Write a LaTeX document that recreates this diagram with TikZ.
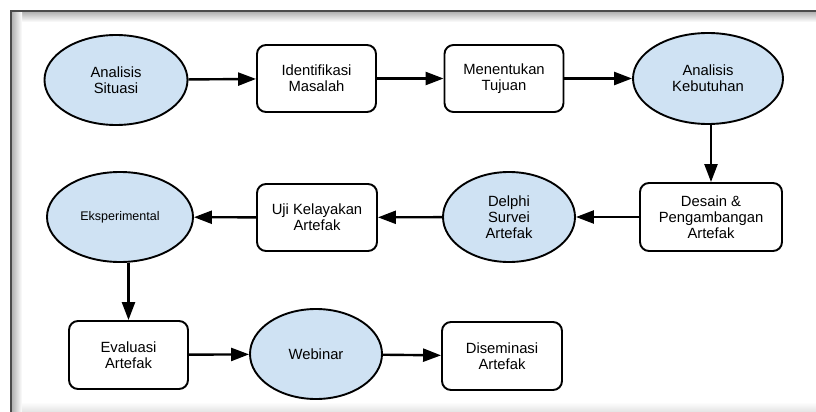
\documentclass[tikz,border=0pt]{standalone}
\usepackage{fontspec}
\setmainfont{Liberation Sans}
\usetikzlibrary{shapes.geometric,arrows.meta}
\definecolor{nodeblue}{HTML}{CFE2F3}
\definecolor{framegray}{HTML}{4A4A4A}
\begin{document}
\begin{tikzpicture}[x=1pt,y=-1pt,
  every node/.style={font=\fontsize{14.8}{16}\selectfont, align=center, inner sep=0pt},
  oval/.style={ellipse, draw=black, line width=1.9pt, fill=nodeblue},
  stepbox/.style={rectangle, rounded corners=9pt, draw=black, line width=1.9pt, fill=white,
    minimum width=119pt, minimum height=67pt},
  flow/.style={-{Triangle[length=18pt,width=13pt]}, line width=2.4pt}
]
% page and frame
\fill[white] (0,0) rectangle (816,412);
\useasboundingbox (0,0) rectangle (816,412);
\shade[top color=gray!60, bottom color=white] (12,12) rectangle (816,22);
\shade[left color=gray!60, right color=white] (12,12) rectangle (22,412);
\shade[top color=white, bottom color=gray!22] (22,402) rectangle (816,412);
\draw[framegray, line width=1.5pt] (11,412) -- (11,11) -- (816,11);

% row 1
\node[oval, minimum width=143pt, minimum height=90pt] (as) at (116,80) {Analisis\\Situasi};
\node[stepbox] (im) at (316.5,78.5) {Identifikasi\\Masalah};
\node[stepbox] (mt) at (504,78.5) {Menentukan\\Tujuan};
\node[oval, minimum width=150pt, minimum height=91pt] (ak) at (708,78.5) {Analisis\\Kebutuhan};

% row 2
\node[stepbox, minimum width=142pt, minimum height=68pt] (dp) at (711,217) {Desain \&\\Pengambangan\\Artefak};
\node[oval, minimum width=132pt, minimum height=90pt] (ds) at (509,217) {Delphi\\Survei\\Artefak};
\node[stepbox, minimum width=120pt] (uk) at (317,217.5) {Uji Kelayakan\\Artefak};
\node[oval, minimum width=146pt, minimum height=90pt, font=\fontsize{12.5}{14}\selectfont] (ek) at (120,217) {Eksperimental};

% row 3
\node[stepbox, minimum height=68pt] (ev) at (128.5,355) {Evaluasi\\Artefak};
\node[oval, minimum width=132pt, minimum height=90pt] (wb) at (316,354) {Webinar};
\node[stepbox, minimum width=120pt, minimum height=68pt] (di) at (502,356) {Diseminasi\\Artefak};

% connectors
\draw[flow] (as) -- (im);
\draw[flow] (im) -- (mt);
\draw[flow] (mt) -- (ak);
\draw[flow] (ak.south -| dp.north) -- (dp.north);
\draw[flow] (dp) -- (ds);
\draw[flow] (ds) -- (uk);
\draw[flow] (uk) -- (ek);
\draw[flow] (ek.south -| ev.north) -- (ev.north);
\draw[flow] (ev) -- (wb);
\draw[flow] (wb) -- (di);
\end{tikzpicture}
\end{document}
